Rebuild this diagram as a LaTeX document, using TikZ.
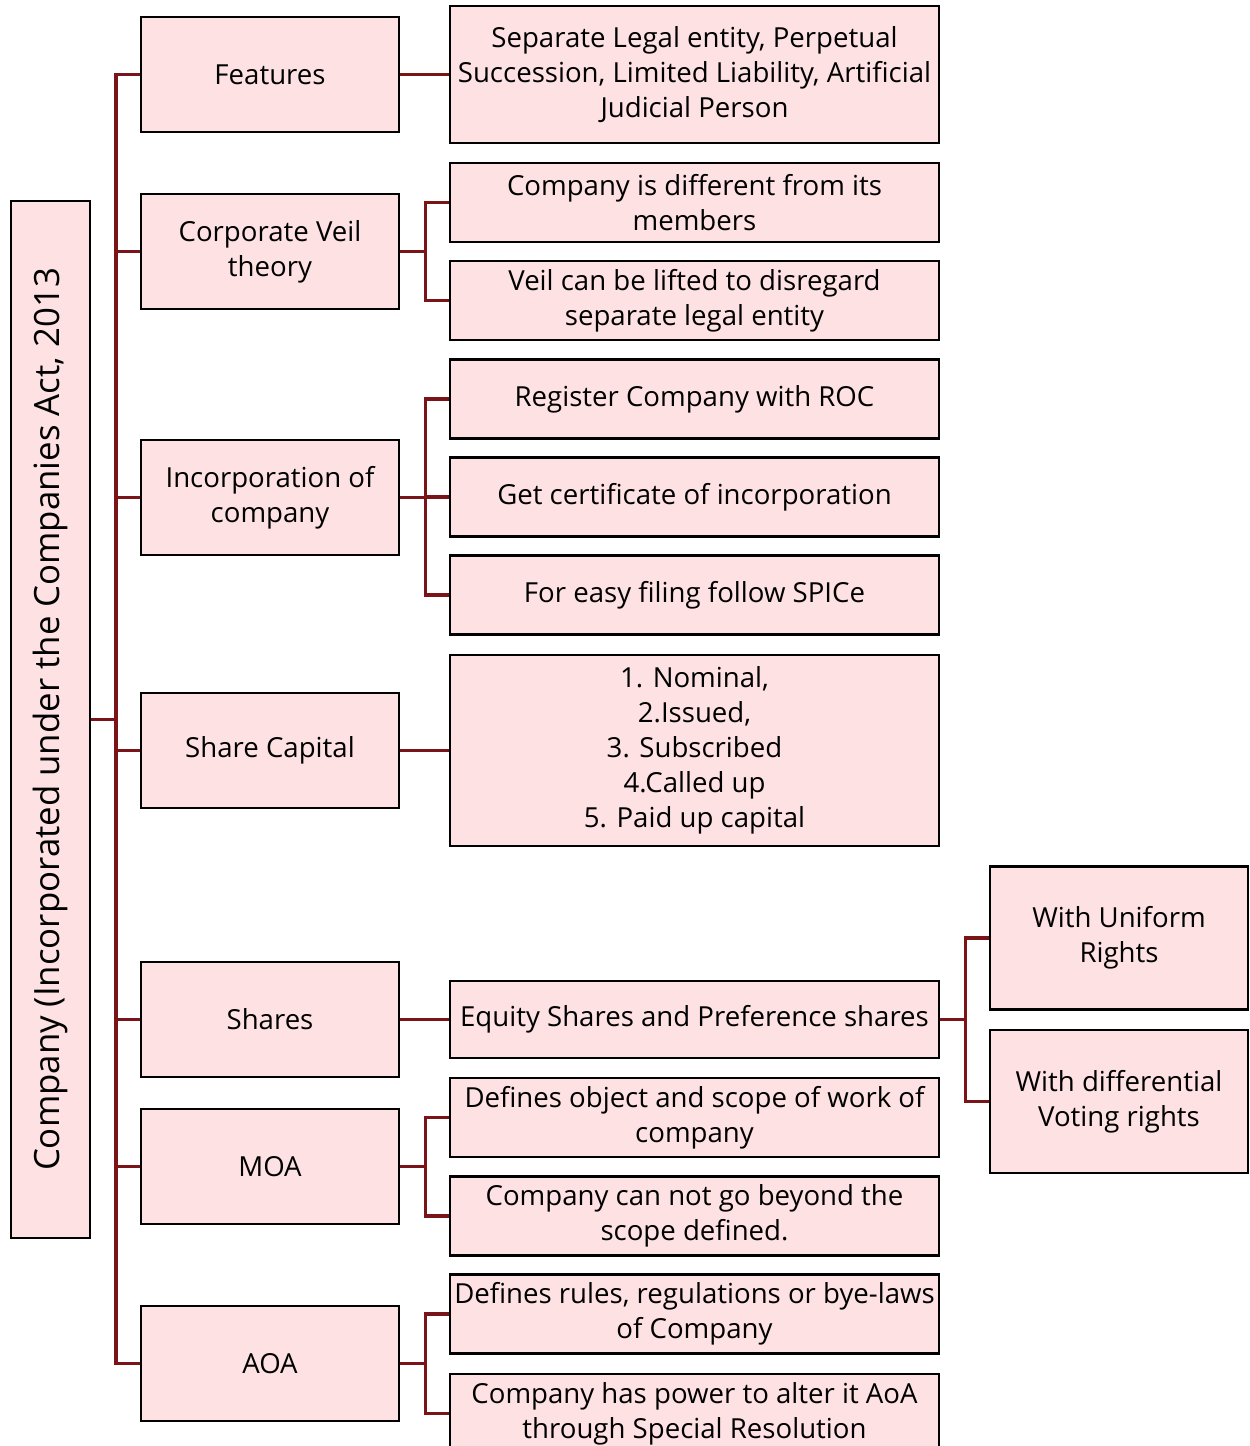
\documentclass[tikz,border=0pt]{standalone}
\usepackage{fontspec}
\setmainfont{Open Sans}
\definecolor{boxpink}{HTML}{FDE1E3}
\definecolor{linkred}{HTML}{7A1418}

\begin{document}
\begin{tikzpicture}[x=0.5pt,y=-0.5pt,
    box/.style={draw=black, line width=1.2pt, fill=boxpink, align=center,
                inner sep=1pt, font=\fontsize{13.8}{17.5}\selectfont},
    topic/.style={box, minimum width=129pt, minimum height=57.5pt},
    detail/.style={box, minimum width=244.5pt, minimum height=39.5pt},
    link/.style={draw=linkred, line width=1.7pt}]
    \useasboundingbox (0,0) rectangle (1249,1446);
    \clip (0,0) rectangle (1249,1446);

    % root
    \node[box, rotate=90, minimum width=518.5pt, minimum height=39.5pt,
          font=\fontsize{17.4}{20}\selectfont]
         (root) at (50.5,719.5) {Company (Incorporated under the Companies Act, 2013};

    % first level
    \node[topic] (feat) at (270,74.5)   {Features};
    \node[topic] (veil) at (270,251.5)  {Corporate Veil\\theory};
    \node[topic] (inc)  at (270,497.5)  {Incorporation of\\company};
    \node[topic] (cap)  at (270,750.5)  {Share Capital};
    \node[topic] (shr)  at (270,1019.5) {Shares};
    \node[topic] (moa)  at (270,1166.5) {MOA};
    \node[topic] (aoa)  at (270,1363.5) {AOA};

    % second level
    \node[detail, minimum height=68.5pt] (featA) at (694.5,74.5)
         {Separate Legal entity, Perpetual\\Succession, Limited Liability, Artificial\\Judicial Person};
    \node[detail] (veilA) at (694.5,202.5) {Company is different from its\\members};
    \node[detail] (veilB) at (694.5,300.5) {Veil can be lifted to disregard\\separate legal entity};
    \node[detail] (incA)  at (694.5,399)   {Register Company with ROC};
    \node[detail] (incB)  at (694.5,497)   {Get certificate of incorporation};
    \node[detail] (incC)  at (694.5,595)   {For easy filing follow SPICe};
    \node[detail, minimum height=95.5pt] (capA) at (694.5,750.5)
         {1. Nominal,\\2.Issued,\\3. Subscribed\\4.Called up\\5. Paid up capital};
    \node[detail, minimum height=38.5pt] (shrA) at (694.5,1019.5) {Equity Shares and Preference shares};
    \node[detail] (moaA)  at (694.5,1117.5) {Defines object and scope of work of\\company};
    \node[detail] (moaB)  at (694.5,1216)   {Company can not go beyond the\\scope defined.};
    \node[detail] (aoaA)  at (694.5,1314)   {Defines rules, regulations or bye-laws\\of Company};
    \node[detail] (aoaB)  at (694.5,1413.5) {Company has power to alter it AoA\\through Special Resolution};

    % third level
    \node[topic, minimum height=71.5pt] (shrA1) at (1119,938)    {With Uniform\\Rights};
    \node[topic, minimum height=71.5pt] (shrA2) at (1119,1101.5) {With differential\\Voting rights};

    %edges
    \coordinate (trunk) at (116,719.5);
    \draw[link] (root.south) -- (trunk);
    \foreach \n in {feat,veil,inc,cap,shr,moa,aoa}
        \draw[link] (trunk) |- (\n.west);

    \draw[link] (feat.east) -- (featA.west);
    \draw[link] (cap.east)  -- (capA.west);
    \draw[link] (shr.east)  -- (shrA.west);

    \foreach \a/\b in {veil/veilA,veil/veilB,inc/incA,inc/incB,inc/incC,
                       moa/moaA,moa/moaB,aoa/aoaA,aoa/aoaB}
        \draw[link] (\a.east) -- +(25.5,0) |- (\b.west);

    \draw[link] (shrA.east) -- +(25.5,0) |- (shrA1.west);
    \draw[link] (shrA.east) -- +(25.5,0) |- (shrA2.west);
\end{tikzpicture}
\end{document}
